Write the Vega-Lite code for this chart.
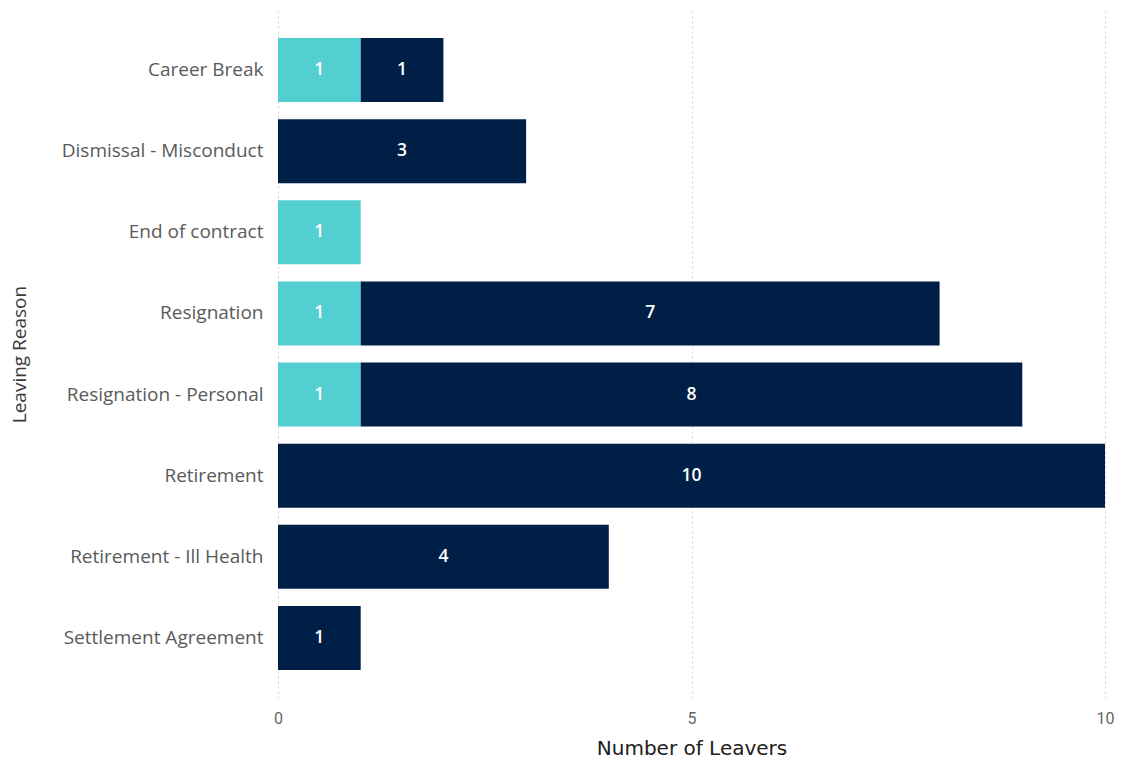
{
  "$schema": "https://vega.github.io/schema/vega-lite/v6.json",
  "width": 827,
  "height": 688,
  "autosize": {"type": "none"},
  "padding": {"left": 278, "top": 10, "right": 23, "bottom": 60},
  "background": "white",
  "config": {"view": {"stroke": null}, "font": "Open Sans"},
  "data": {
    "values": [
      {"reason": "Career Break", "series": "Series A", "count": 1},
      {"reason": "Career Break", "series": "Series B", "count": 1},
      {"reason": "Dismissal - Misconduct", "series": "Series B", "count": 3},
      {"reason": "End of contract", "series": "Series A", "count": 1},
      {"reason": "Resignation", "series": "Series A", "count": 1},
      {"reason": "Resignation", "series": "Series B", "count": 7},
      {"reason": "Resignation - Personal", "series": "Series A", "count": 1},
      {"reason": "Resignation - Personal", "series": "Series B", "count": 8},
      {"reason": "Retirement", "series": "Series B", "count": 10},
      {"reason": "Retirement - Ill Health", "series": "Series B", "count": 4},
      {"reason": "Settlement Agreement", "series": "Series B", "count": 1}
    ]
  },
  "transform": [
    {"stack": "count", "groupby": ["reason"], "sort": [{"field": "series", "order": "ascending"}], "as": ["x0", "x1"]},
    {"calculate": "(datum.x0 + datum.x1) / 2", "as": "mid"}
  ],
  "encoding": {
    "y": {
      "field": "reason",
      "type": "nominal",
      "sort": ["Career Break", "Dismissal - Misconduct", "End of contract", "Resignation", "Resignation - Personal", "Retirement", "Retirement - Ill Health", "Settlement Agreement"],
      "scale": {"paddingInner": 0.211, "paddingOuter": 0.345},
      "axis": {
        "title": "Leaving Reason",
        "titleFont": "Open Sans",
        "titleFontSize": 19,
        "titleFontWeight": "normal",
        "titleColor": "#3a3a3a",
        "titlePadding": 49,
        "labelFont": "Open Sans",
        "labelFontSize": 19,
        "labelColor": "#5a5a5a",
        "labelPadding": 15,
        "labelLimit": 0,
        "ticks": false,
        "domain": false,
        "grid": false
      }
    }
  },
  "layer": [
    {
      "mark": {"type": "bar"},
      "encoding": {
        "x": {
          "field": "x0",
          "type": "quantitative",
          "scale": {"domain": [0, 10], "nice": false},
          "axis": {
            "values": [0, 5, 10],
            "format": "d",
            "labelAlign": "center",
            "labelFlush": false,
            "title": "Number of Leavers",
            "titleFont": "DejaVu Sans",
            "titleFontSize": 20,
            "titleFontWeight": "normal",
            "titleColor": "#202020",
            "titlePadding": 12,
            "labelFont": "Roboto",
            "labelFontSize": 16,
            "labelColor": "#666666",
            "labelPadding": 12,
            "ticks": false,
            "domain": false,
            "grid": true,
            "gridColor": "#d0d0d0",
            "gridDash": [2, 3],
            "gridWidth": 1
          }
        },
        "x2": {"field": "x1"},
        "color": {
          "field": "series",
          "type": "nominal",
          "scale": {"domain": ["Series A", "Series B"], "range": ["#53CFD2", "#001F47"]},
          "legend": null
        }
      }
    },
    {
      "mark": {"type": "text", "color": "white", "fontSize": 17.5, "fontWeight": 600, "font": "Open Sans"},
      "encoding": {
        "x": {"field": "mid", "type": "quantitative"},
        "text": {"field": "count", "type": "quantitative"}
      }
    }
  ]
}
